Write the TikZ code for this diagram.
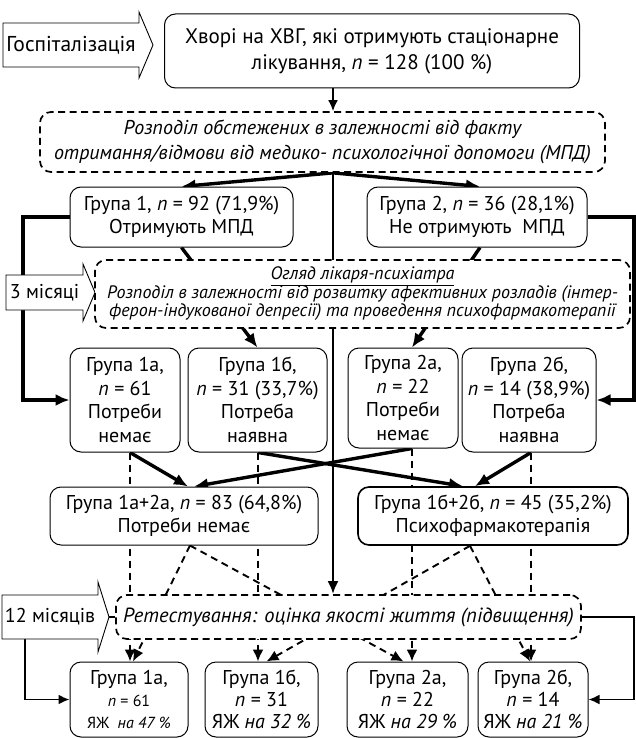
\documentclass[tikz,border=0pt]{standalone}
\usepackage{fontspec}
\setmainfont{PT Sans}
\usetikzlibrary{arrows.meta}
\pgfdeclarelayer{bg}
\pgfsetlayers{bg,main}
\tikzset{
  box/.style={draw, line width=1pt, rounded corners=11pt, fill=white, align=center, inner sep=0pt},
  dbox/.style={draw, line width=1.7pt, dash pattern=on 7pt off 4.5pt, rounded corners=11pt, fill=white, align=center, inner sep=0pt},
  lbl/.style={inner sep=0pt, align=center},
  shapeln/.style={draw, line width=0.9pt, fill=white, line join=miter},
  tconn/.style={line width=3.4pt, line join=miter, -{Latex[length=14pt,width=12pt]}},
  cconn/.style={line width=2.8pt, -{Latex[length=13pt,width=11pt]}},
  sconn/.style={line width=2pt, -{Latex[length=11pt,width=10pt]}},
  dconn/.style={line width=1.9pt, dash pattern=on 7pt off 5pt, -{Latex[length=12pt,width=11pt]}},
  mconn/.style={line width=1.9pt, line join=miter, -{Latex[length=11pt,width=10pt]}},
  mline/.style={line width=1.9pt},
}
\begin{document}
\begin{tikzpicture}[x=1pt,y=-1pt,font=\fontsize{20}{23}\selectfont]
\useasboundingbox (0,0) rectangle (636,738);

\coordinate (cx) at (333,0);
\coordinate (k1) at (130,0);
\coordinate (k2) at (258,0);
\coordinate (k3) at (412,0);
\coordinate (k4) at (531,0);
\coordinate (lx) at (23,0);
\coordinate (lx2) at (25,0);
\coordinate (rx) at (634,0);

% label arrows
\draw[shapeln] (3,23) -- (139,23) -- (139,12) -- (153,45) -- (139,78) -- (139,67) -- (3,67) -- cycle;
\node[lbl, font=\fontsize{21.5}{24}\selectfont] (hosp) at (71,45) {Госпіталізація};
\draw[shapeln] (6,275) -- (83,275) -- (83,264) -- (95,292.5) -- (83,321) -- (83,310) -- (6,310) -- cycle;
\node[lbl] (m3) at (44.5,292.5) {3 місяці};
\draw[shapeln] (2,595) -- (98,595) -- (98,582) -- (109,617) -- (98,652) -- (98,639) -- (2,639) -- cycle;
\node[lbl, minimum width=96pt, minimum height=44pt] (m12) at (50,617) {12 місяців};
\coordinate (m12tip) at (109,617);

% boxes
\node[box, minimum width=415pt, minimum height=74pt, font=\fontsize{21}{26}\selectfont] (top) at (372,51)
  {Хворі на ХВГ, які отримують стаціонарне\\лікування, \textit{n} = 128 (100~\%)};
\node[dbox, minimum width=565pt, minimum height=60pt, font=\fontsize{20}{25}\selectfont\itshape] (d1) at (322.5,142)
  {Розподіл обстежених в залежності від факту\\отримання/відмови від медико- психологічної допомоги (МПД)};
\node[box, minimum width=223pt, minimum height=60pt] (g1) at (181.5,217)
  {Група 1, \textit{n} = 92 (71,9\%)\\Отримують МПД};
\node[box, minimum width=220pt, minimum height=60pt] (g2) at (477,217)
  {Група 2, \textit{n} = 36 (28,1\%)\\Не отримують\ \ МПД};
\node[dbox, minimum width=535pt, minimum height=68pt, font=\fontsize{18}{18.5}\selectfont\itshape] (d2) at (362.5,294)
  {\underline{Огляд лікаря-психіатра}\\Розподіл в залежності від розвитку афективних розладів (інтер-\\ферон-індукованої депресії) та проведення психофармакотерапії};

\node[box, minimum width=110pt, minimum height=104pt, font=\fontsize{20}{23.5}\selectfont] (m1a) at (125,400)
  {Група 1а,\\\textit{n} = 61\\Потреби\\немає};
\node[box, minimum width=139pt, minimum height=104pt, font=\fontsize{20}{23.5}\selectfont] (m1b) at (257.5,400)
  {Група 1б,\\\textit{n} = 31 (33,7\%)\\Потреба\\наявна};
\node[box, minimum width=110pt, minimum height=100pt, font=\fontsize{20}{23.5}\selectfont] (m2a) at (403,398)
  {Група 2а,\\\textit{n} = 22\\Потреби\\немає};
\node[box, minimum width=134pt, minimum height=104pt, font=\fontsize{20}{23.5}\selectfont] (m2b) at (529,400)
  {Група 2б,\\\textit{n} = 14 (38,9\%)\\Потреба\\наявна};

\node[box, minimum width=268pt, minimum height=58pt] (c1) at (184,516)
  {Група 1а+2а, \textit{n} = 83 (64,8\%)\\Потреби немає};
\node[box, line width=1.6pt, minimum width=270pt, minimum height=58pt] (c2) at (493,516)
  {Група 1б+2б, \textit{n} = 45 (35,2\%)\\Психофармакотерапія};

\node[dbox, minimum width=465pt, minimum height=44pt, font=\fontsize{20.5}{22}\selectfont\itshape] (rt) at (348.5,617)
  {Ретестування: оцінка якості життя (підвищення)};

\node[box, minimum width=118pt, minimum height=75pt, font=\fontsize{20}{22}\selectfont] (b1a) at (129,699.5)
  {Група 1а,\\{\fontsize{16}{20}\selectfont\textit{n} = 61}\\{\fontsize{16}{20}\selectfont ЯЖ\ \ \textit{на 47 \%}}};
\node[box, minimum width=113pt, minimum height=75pt, font=\fontsize{20}{22}\selectfont] (b1b) at (261.5,699.5)
  {Група 1б,\\\textit{n} = 31\\ЯЖ \textit{на 32 \%}};
\node[box, minimum width=121pt, minimum height=75pt, font=\fontsize{20}{22}\selectfont] (b2a) at (407.5,699.5)
  {Група 2а,\\\textit{n} = 22\\ЯЖ \textit{на 29 \%}};
\node[box, minimum width=110pt, minimum height=75pt, font=\fontsize{20}{22}\selectfont] (b2b) at (533,699.5)
  {Група 2б,\\\textit{n} = 14\\ЯЖ \textit{на 21 \%}};

\begin{pgfonlayer}{bg}
\fill[white] (0,0) rectangle (636,738);
\draw[sconn] (top.south -| cx) -- (d1.north -| cx);
\draw[cconn] (d1.south -| cx) -- (rt.north -| cx);
\draw[tconn] (d1.south -| cx) -- (g1.north);
\draw[tconn] (d1.south -| cx) -- ([xshift=3pt]g2.north);
\draw[tconn] (g1.west) -- (g1.west -| lx) -- (m1a.west -| lx) -- (m1a.west);
\draw[tconn] (g2.east) -- (g2.east -| rx) -- (m2b.east -| rx) -- (m2b.east);
\draw[tconn] (g1.south) -- (m1b.north);
\draw[tconn] ([xshift=3pt]g2.south) -- (m2a.north -| k3);
\draw[tconn] (m1a.south -| k1) -- ([xshift=4pt]c1.north);
\draw[tconn] (m2a.south -| k3) -- ([xshift=10pt]c1.north);
\draw[tconn] (m1b.south -| k2) -- ([xshift=-30pt]c2.north);
\draw[tconn] (m2b.south -| k4) -- ([xshift=-18pt]c2.north);
\draw[dconn] (m1a.south -| k1) -- (b1a.north -| k1);
\draw[dconn] (m1b.south -| k2) -- (b1b.north -| k2);
\draw[dconn] (m2a.south -| k3) -- (b2a.north -| k3);
\draw[dconn] (m2b.south -| k4) -- (b2b.north -| k4);
\draw[dconn] ([xshift=6pt]c1.south) -- ([xshift=4pt]b1a.north);
\draw[dconn] ([xshift=6pt]c1.south) -- ([xshift=-4pt]b2a.north);
\draw[dconn] ([xshift=-23pt]c2.south) -- ([xshift=5pt]b1b.north);
\draw[dconn] ([xshift=-23pt]c2.south) -- ([xshift=-3pt]b2b.north);
\draw[mline] (m12tip) -- (rt.west);
\draw[mconn] (m12.south -| lx2) -- (b1a.west -| lx2) -- (b1a.west);
\draw[mconn] (rt.east) -- (rt.east -| rx) -- (b2b.east -| rx) -- (b2b.east);
\end{pgfonlayer}
\end{tikzpicture}
\end{document}
